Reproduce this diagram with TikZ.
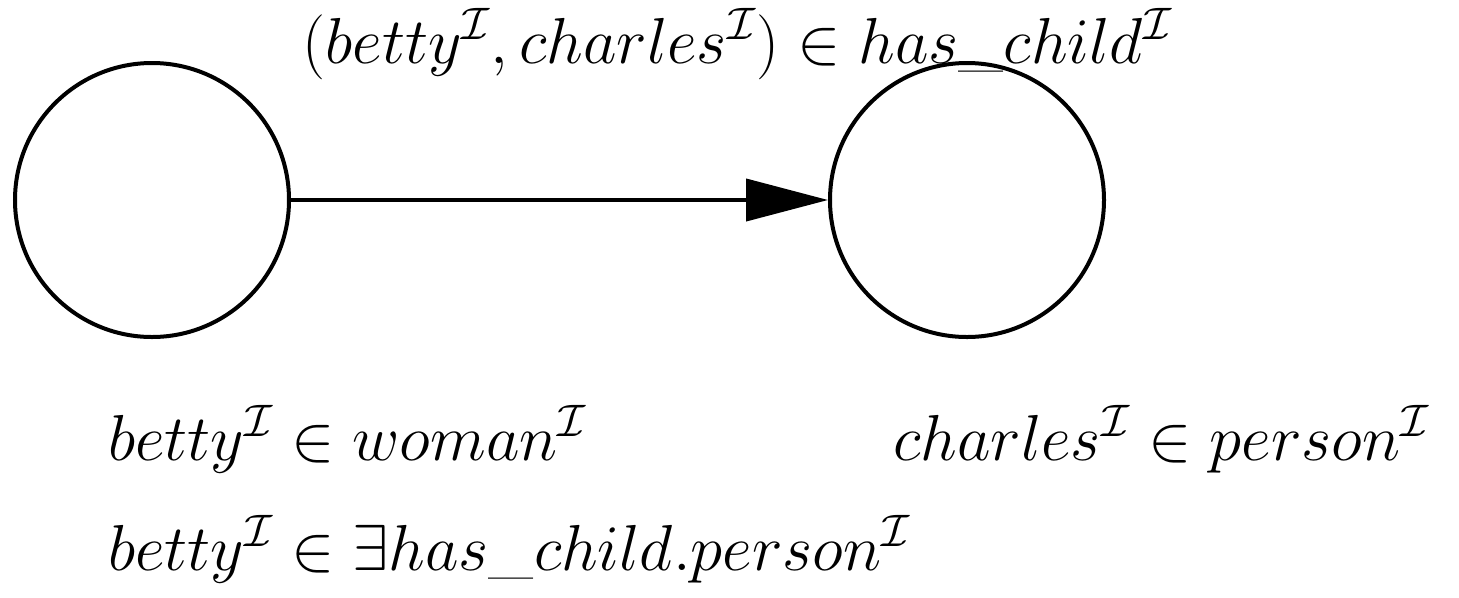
\RequirePackage{fix-cm}
\documentclass[tikz,border=0pt]{standalone}
\usetikzlibrary{arrows.meta}

\begin{document}
\begin{tikzpicture}[every node/.style={font=\fontsize{37}{44}\selectfont},
 obj/.style={draw,circle,line width=.08cm,minimum size=5.48cm,inner sep=0pt},
 lbl/.style={anchor=base west,inner sep=0pt},
 arr/.style={-{Triangle[length=1.64cm,width=.84cm]},line width=.08cm}]
\useasboundingbox (0,0) rectangle (29.18,-11.94);
\node[obj] (betty) at (3.04,-4) {};
\node[obj] (charles) at (19.34,-4) {};
\draw[arr] (betty)--(charles);
\node[anchor=base,inner sep=0pt] (role) at (14.75,-1.26) {$(betty^{\mathcal{I}},charles^{\mathcal{I}})\in has\_child^{\mathcal{I}}$};
\node[lbl] (woman) at (2.16,-9.2) {$betty^{\mathcal{I}}\in woman^{\mathcal{I}}$};
\node[lbl] (person) at (17.86,-9.2) {$charles^{\mathcal{I}}\in person^{\mathcal{I}}$};
\node[lbl] (exists) at (2.16,-11.4) {$betty^{\mathcal{I}}\in\exists has\_child.person^{\mathcal{I}}$};
\end{tikzpicture}
\end{document}
